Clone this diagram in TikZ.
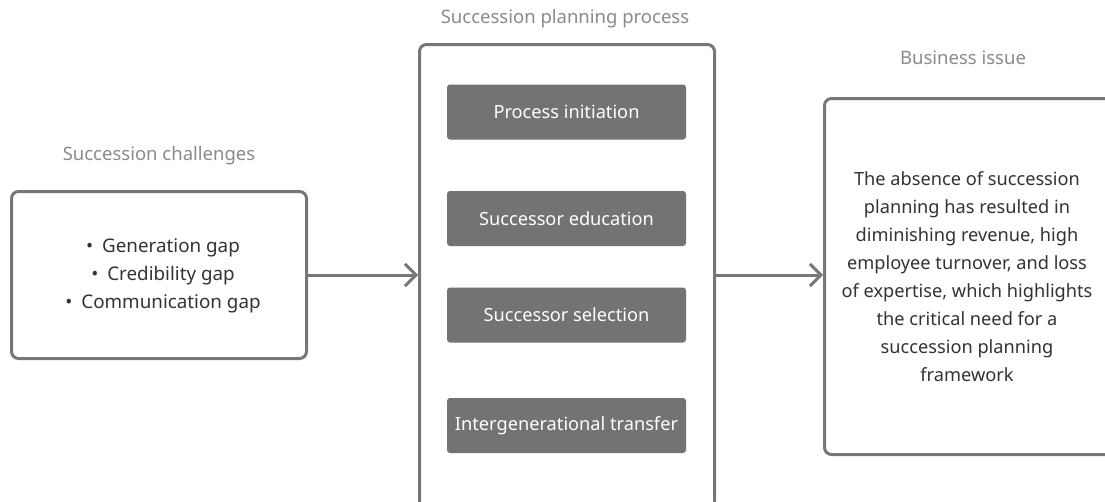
\documentclass[tikz,border=0pt]{standalone}
\usepackage{fontspec}
\setmainfont{Noto Sans}
\usetikzlibrary{arrows.meta}
\definecolor{frame}{HTML}{777777}
\definecolor{stepfill}{HTML}{737373}
\definecolor{caption}{HTML}{8A8A8A}
\definecolor{body}{HTML}{333333}
\newcommand{\gapitem}{\textbullet\hspace{9pt}}
\begin{document}
\begin{tikzpicture}[x=1pt,y=-1pt,
  panel/.style={draw=frame, line width=3pt, rounded corners=7pt, fill=white,
    inner sep=0pt, anchor=north west},
  stepbox/.style={fill=stepfill, rounded corners=3pt, minimum width=239pt,
    minimum height=55pt, inner sep=0pt, text=white,
    font=\fontsize{18.2}{20}\selectfont},
  heading/.style={text=caption, font=\fontsize{18.5}{20}\selectfont},
  bodytext/.style={text=body, align=center, font=\fontsize{18.2}{28}\selectfont},
  flow/.style={draw=frame, line width=3pt,
    -{Straight Barb[length=11pt,width=22pt,line width=3pt]}}]
\useasboundingbox (0,0) rectangle (1105,501);

% three panels
\node[panel, minimum width=295pt, minimum height=167pt] (left) at (10,190) {};
\node[panel, minimum width=295pt, minimum height=464pt] (mid) at (418,43) {};
\node[panel, minimum width=300pt, minimum height=356pt] (right) at (823,97) {};

% panel headings
\node[heading] (hleft) at (159,156) {Succession challenges};
\node[heading] (hmid) at (565,19) {Succession planning process};
\node[heading] (hright) at (963,58) {Business issue};

% challenge list
\node[bodytext, font=\fontsize{18.8}{28}\selectfont] (gaps) at (163,276) {%
  \gapitem Generation gap\\
  \gapitem Credibility gap\\
  \gapitem Communication gap};

% process steps
\node[stepbox] (s1) at (566.5,112) {Process initiation};
\node[stepbox] (s2) at (566.5,218.5) {Successor education};
\node[stepbox] (s3) at (566.5,315) {Successor selection};
\node[stepbox] (s4) at (566.5,425.5) {Intergenerational transfer};

% business issue statement
\node[bodytext] (issue) at (967,277) {%
  The absence of succession\\
  planning has resulted in\\
  diminishing revenue, high\\
  employee turnover, and loss\\
  of expertise, which highlights\\
  the critical need for a\\
  succession planning\\
  framework};

% connectors
\draw[flow] (left.east) -- (left.east -| mid.west);
\draw[flow] (left.east -| mid.east) -- (left.east -| right.west);
\end{tikzpicture}
\end{document}
